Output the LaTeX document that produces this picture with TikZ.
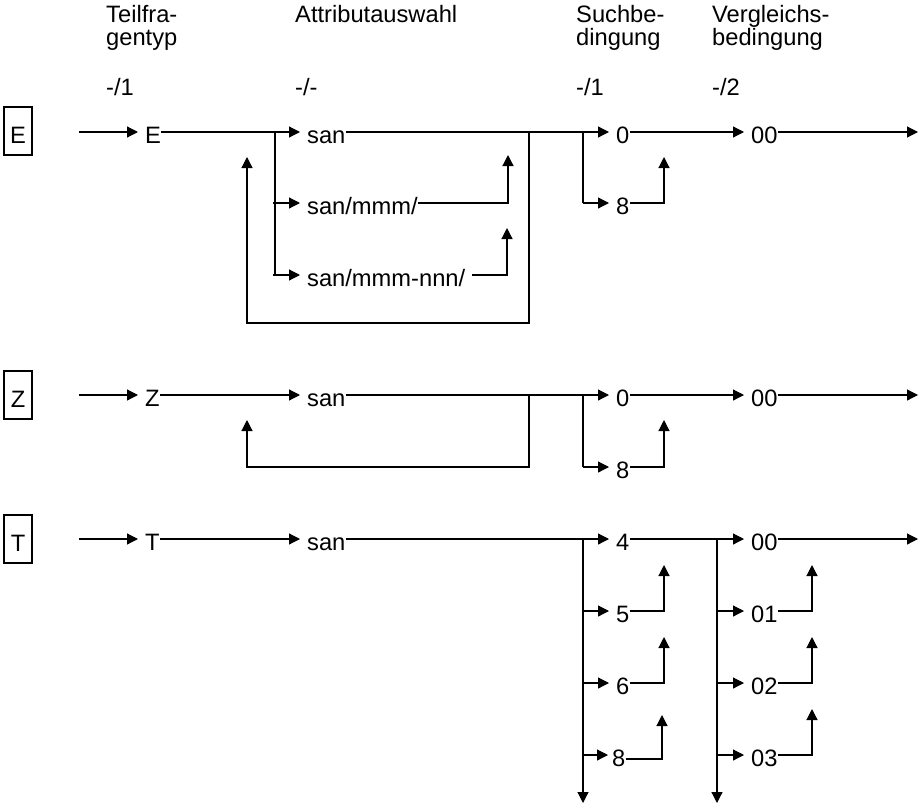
\documentclass[tikz,border=0pt]{standalone}
\usepackage{fontspec}
\setmainfont{Liberation Sans}
\usetikzlibrary{arrows.meta}
\begin{document}
\begin{tikzpicture}[x=1pt,y=-1pt,
  every node/.style={font=\fontsize{23.7}{24}\selectfont, inner sep=0pt},
  wire/.style={line width=1.2pt},
  fwd/.style={wire,-{Triangle[length=11pt,width=11pt]}},
  into/.style={fwd,shorten >=7pt},
  lbl/.style={anchor=west,text height=23pt,text depth=0pt},
  hdr/.style={anchor=base west},
  tag/.style={draw,line width=1.2pt,minimum width=28pt,minimum height=48pt,
              text height=24pt,text depth=0pt}]
\useasboundingbox (0,0) rectangle (923,808);

% column headings
\node[hdr] (hA1) at (106,23) {Teilfra-};
\node[hdr] (hA2) at (106,46) {gentyp};
\node[hdr] (hA3) at (106,95) {-/1};
\node[hdr] (hB1) at (295,23) {Attributauswahl};
\node[hdr] (hB3) at (295,95) {-/-};
\node[hdr] (hC1) at (576,23) {Suchbe-};
\node[hdr] (hC2) at (576,46) {dingung};
\node[hdr] (hC3) at (576,95) {-/1};
\node[hdr] (hD1) at (712,23) {Vergleichs-};
\node[hdr] (hD2) at (712,46) {bedingung};
\node[hdr] (hD3) at (712,95) {-/2};

% ---------------- row E ----------------
\node[tag] (tE) at (18,131) {E};
\coordinate (inE) at (79,132);
\node[lbl] (E) at (145,132) {E};
\coordinate (jE) at (275,132);
\coordinate (vE) at (275,275);
\coordinate (kE2) at (273,203);
\coordinate (kE3) at (273,275);
\node[lbl] (sE1) at (307,132) {san};
\node[lbl] (sE2) at (307,203) {san/mmm/};
\node[lbl] (sE3) at (307,275) {san/mmm-nnn/};
\coordinate (uE2) at (508,203);
\coordinate (uE2t) at (508,155);
\coordinate (uE3) at (507,275);
\coordinate (uE3t) at (507,228);
\coordinate (rE) at (529,132);
\coordinate (rEb) at (529,323);
\coordinate (lEb) at (247,323);
\coordinate (lEt) at (247,157);
\coordinate (bE) at (583,132);
\coordinate (bE8) at (583,203);
\node[lbl] (cE0) at (616,132) {0};
\node[lbl] (cE8) at (616,203) {8};
\coordinate (uE8) at (664,203);
\coordinate (uE8t) at (664,157);
\node[lbl] (dE) at (751,132) {00};
\coordinate (outE) at (918,132);

\draw[into] (inE) -- (E.west);
\draw[wire] (E.east) -- (jE);
\draw[into] (jE) -- (sE1.west);
\draw[wire] (jE) -- (vE);
\draw[into] (kE2) -- (sE2.west);
\draw[into] (kE3) -- (sE3.west);
\draw[fwd] (sE2.east) -- (uE2) -- (uE2t);
\draw[fwd] ([xshift=7pt]sE3.east) -- (uE3) -- (uE3t);
\draw[wire] (sE1.east) -- (bE);
\draw[fwd] (rE) -- (rEb) -- (lEb) -- (lEt);
\draw[into] (bE) -- (cE0.west);
\draw[wire] (bE) -- (bE8);
\draw[into] (bE8) -- (cE8.west);
\draw[fwd] (cE8.east) -- (uE8) -- (uE8t);
\draw[into] (cE0.east) -- (dE.west);
\draw[fwd] (dE.east) -- (outE);

% ---------------- row Z ----------------
\node[tag] (tZ) at (18,395) {Z};
\coordinate (inZ) at (79,395);
\node[lbl] (Z) at (145,395) {Z};
\node[lbl] (sZ) at (307,395) {san};
\coordinate (rZ) at (529,395);
\coordinate (rZb) at (529,467);
\coordinate (lZb) at (247,467);
\coordinate (lZt) at (247,420);
\coordinate (bZ) at (583,395);
\coordinate (bZ8) at (583,467);
\node[lbl] (cZ0) at (616,395) {0};
\node[lbl] (cZ8) at (616,467) {8};
\coordinate (uZ8) at (664,467);
\coordinate (uZ8t) at (664,420);
\node[lbl] (dZ) at (751,395) {00};
\coordinate (outZ) at (918,395);

\draw[into] (inZ) -- (Z.west);
\draw[into] (Z.east) -- (sZ.west);
\draw[wire] (sZ.east) -- (bZ);
\draw[fwd] (rZ) -- (rZb) -- (lZb) -- (lZt);
\draw[into] (bZ) -- (cZ0.west);
\draw[wire] (bZ) -- (bZ8);
\draw[into] (bZ8) -- (cZ8.west);
\draw[fwd] (cZ8.east) -- (uZ8) -- (uZ8t);
\draw[into] (cZ0.east) -- (dZ.west);
\draw[fwd] (dZ.east) -- (outZ);

% ---------------- row T ----------------
\node[tag] (tT) at (18,539) {T};
\coordinate (inT) at (79,539);
\node[lbl] (T) at (145,539) {T};
\node[lbl] (sT) at (307,539) {san};
\coordinate (bT) at (583,539);
\coordinate (bT5) at (583,611);
\coordinate (bT6) at (583,683);
\coordinate (bT8) at (583,755);
\coordinate (dnT) at (583,803);
\node[lbl] (cT4) at (616,539) {4};
\node[lbl] (cT5) at (616,611) {5};
\node[lbl] (cT6) at (616,683) {6};
\node[lbl] (cT8) at (612,755) {8};
\coordinate (uT5) at (664,611);
\coordinate (uT5t) at (664,565);
\coordinate (uT6) at (664,683);
\coordinate (uT6t) at (664,637);
\coordinate (uT8) at (662,759);
\coordinate (uT8t) at (662,715);
\coordinate (jT) at (717,539);
\coordinate (jT1) at (717,611);
\coordinate (jT2) at (717,683);
\coordinate (jT3) at (717,755);
\coordinate (dnJ) at (717,803);
\node[lbl] (dT0) at (751,539) {00};
\node[lbl] (dT1) at (751,611) {01};
\node[lbl] (dT2) at (751,683) {02};
\node[lbl] (dT3) at (751,755) {03};
\coordinate (vT1) at (812,611);
\coordinate (vT1t) at (812,565);
\coordinate (vT2) at (812,683);
\coordinate (vT2t) at (812,637);
\coordinate (vT3) at (812,755);
\coordinate (vT3t) at (812,709);
\coordinate (outT) at (918,539);

\draw[into] (inT) -- (T.west);
\draw[into] (T.east) -- (sT.west);
\draw[wire] (sT.east) -- (bT);
\draw[into] (bT) -- (cT4.west);
\draw[fwd] (bT) -- (dnT);
\draw[into] (bT5) -- (cT5.west);
\draw[into] (bT6) -- (cT6.west);
\draw[fwd,shorten >=4pt] (bT8) -- (cT8.west);
\draw[fwd] (cT5.east) -- (uT5) -- (uT5t);
\draw[fwd] (cT6.east) -- (uT6) -- (uT6t);
\draw[fwd] ([yshift=-4pt]cT8.east) -- (uT8) -- (uT8t);
\draw[wire] (cT4.east) -- (jT);
\draw[into] (jT) -- (dT0.west);
\draw[fwd] (jT) -- (dnJ);
\draw[into] (jT1) -- (dT1.west);
\draw[into] (jT2) -- (dT2.west);
\draw[into] (jT3) -- (dT3.west);
\draw[fwd] (dT1.east) -- (vT1) -- (vT1t);
\draw[fwd] (dT2.east) -- (vT2) -- (vT2t);
\draw[fwd] (dT3.east) -- (vT3) -- (vT3t);
\draw[fwd] (dT0.east) -- (outT);
\end{tikzpicture}
\end{document}
